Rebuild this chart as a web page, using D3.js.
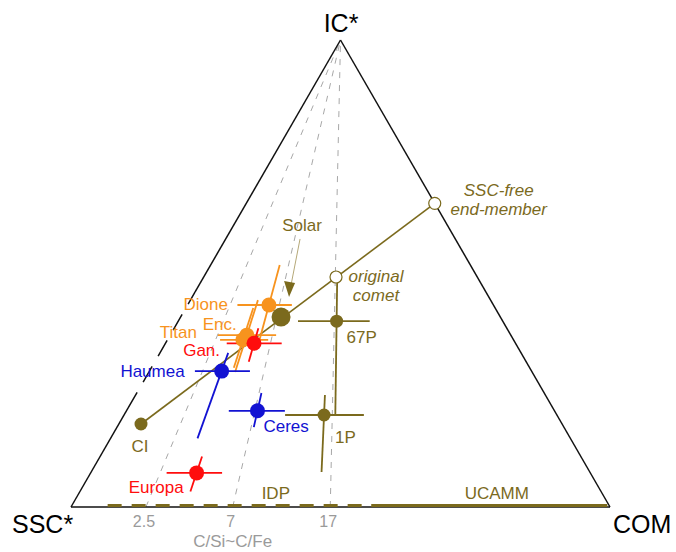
<!DOCTYPE html>
<html>
<head>
<meta charset="utf-8">
<script src="https://cdn.jsdelivr.net/npm/d3@7"></script>
<style>
  html, body { margin: 0; padding: 0; background: #fff; }
  svg { display: block; font-family: "Liberation Sans", Arial, sans-serif; }
</style>
</head>
<body>
<svg width="676" height="552"></svg>
<script>
// ternary coords: ic = IC* fraction, r = COM / (SSC* + COM)
const vertexLabels = ['SSC*', 'COM', 'IC*']
const tickR = [0.139, 0.300, 0.481]
const tickLabels = ['2.5', '7', '17']
const axisTitle = 'C/Si~C/Fe'

// bodies with error bars
const bodies = ['Titan', 'Enc.', 'Dione', 'Gan.', 'Haumea', 'Ceres', 'Europa', '67P', '1P']
const bodyGroup = ['sat', 'sat', 'sat', 'gal', 'dwarf', 'dwarf', 'gal', 'comet', 'comet']
const bodyIC = [0.358, 0.368, 0.4325, 0.3505, 0.291, 0.206, 0.073, 0.398, 0.197]
const bodyR = [0.218, 0.225, 0.266, 0.253, 0.189, 0.306, 0.212, 0.488, 0.462]
const bodyRErr = [[0.152, 0.291], [0.140, 0.311], [0.163, 0.341], [0.175, 0.332], [0.119, 0.263],
  [0.239, 0.370], [0.152, 0.263], [0.369, 0.590], [0.372, 0.554]]
const bodyICErr = [[0.298, 0.426], [0.289, 0.443], [0.347, 0.518], [0.311, 0.383], [0.147, 0.330],
  [0.171, 0.244], [0.033, 0.108], [0.199, 0.4925], [0.075, 0.240]]

// mixing line: CI -> Solar -> original comet -> SSC-free end-member
const mixNames = ['CI', 'Solar', 'original comet', 'SSC-free end-member']
const mixIC = [0.1777, 0.4069, 0.4925, 0.6503]
const mixR = [0.0499, 0.314, 0.4836, 1.0]

// ranges on the SSC*-COM base
const baseNames = ['IDP', 'UCAMM']
const baseRanges = [[0.068, 0.553], [0.557, 0.995]]
const baseLabelR = [0.38, 0.79]

const colors = { sat: '#f7931e', gal: '#ff0d0d', dwarf: '#1212d2', comet: '#7b6a1d' }
const olive = '#7b6a1d'

const svg = d3.select('svg')
const x = d3.scaleLinear().domain([0, 1]).range([71, 610])
const y = d3.scaleLinear().domain([0, 1]).range([507, 40])

// ternary -> pixel
const px = (ic, r) => x(r * (1 - ic) + ic / 2)
const py = (ic) => y(ic)
const pt = (ic, r) => [px(ic, r), py(ic)]

// grey guide lines from the IC* apex
svg.append('g')
  .selectAll('line')
  .data(tickR)
  .join('line')
  .attr('x1', (d) => px(0, d))
  .attr('y1', py(0))
  .attr('x2', px(1, 0))
  .attr('y2', py(1))
  .attr('stroke', '#a8a8a8')
  .attr('stroke-width', 1)
  .attr('stroke-dasharray', '6,7')

svg.append('g')
  .selectAll('text')
  .data(tickLabels)
  .join('text')
  .attr('x', (d, i) => px(0, tickR[i]) - 2)
  .attr('y', 527)
  .attr('text-anchor', 'middle')
  .attr('font-size', 16)
  .attr('fill', '#9a9a9a')
  .text((d) => d)

svg.append('text')
  .attr('x', px(0, tickR[1]))
  .attr('y', 547)
  .attr('text-anchor', 'middle')
  .attr('font-size', 17)
  .attr('fill', '#9a9a9a')
  .text(axisTitle)

// triangle
const edge = (a, b, dash) => svg.append('line')
  .attr('x1', a[0]).attr('y1', a[1])
  .attr('x2', b[0]).attr('y2', b[1])
  .attr('stroke', '#111')
  .attr('stroke-width', 1.5)
  .attr('stroke-dasharray', dash)

edge(pt(0, 0), pt(0, 1))
edge(pt(0, 1), pt(1, 0))
edge(pt(0, 0), pt(0.212, 0))
edge(pt(0.212, 0), pt(0.46, 0), '18,12')
edge(pt(0.46, 0), pt(1, 0))

// base ranges
baseRanges.forEach((rg, i) => {
  svg.append('line')
    .attr('x1', px(0, rg[0]))
    .attr('x2', px(0, rg[1]))
    .attr('y1', py(0) - 1.5)
    .attr('y2', py(0) - 1.5)
    .attr('stroke', olive)
    .attr('stroke-width', 3)
    .attr('stroke-dasharray', i === 0 ? '14,10' : null)
  svg.append('text')
    .attr('x', px(0, baseLabelR[i]))
    .attr('y', 499)
    .attr('text-anchor', 'middle')
    .attr('font-size', 17)
    .attr('fill', olive)
    .text(baseNames[i])
})

// vertex labels
svg.append('text').attr('x', 12).attr('y', 533).attr('font-size', 25).text(vertexLabels[0])
svg.append('text').attr('x', 613).attr('y', 533).attr('font-size', 25).text(vertexLabels[1])
svg.append('text').attr('x', 341).attr('y', 32).attr('text-anchor', 'middle').attr('font-size', 25).text(vertexLabels[2])

// mixing line
const line = d3.line().x((d) => px(d[0], d[1])).y((d) => py(d[0]))
svg.append('path')
  .attr('d', line([[mixIC[0], mixR[0]], [mixIC[3], mixR[3]]]))
  .attr('fill', 'none')
  .attr('stroke', olive)
  .attr('stroke-width', 1.6)

// error bars + points
const bars = svg.append('g')
bodies.forEach((name, i) => {
  const c = colors[bodyGroup[i]]
  const ic = bodyIC[i]
  const r = bodyR[i]
  bars.append('line')
    .attr('x1', px(ic, bodyRErr[i][0])).attr('x2', px(ic, bodyRErr[i][1]))
    .attr('y1', py(ic)).attr('y2', py(ic))
    .attr('stroke', c).attr('stroke-width', 1.8)
  bars.append('line')
    .attr('x1', px(bodyICErr[i][0], r)).attr('y1', py(bodyICErr[i][0]))
    .attr('x2', px(bodyICErr[i][1], r)).attr('y2', py(bodyICErr[i][1]))
    .attr('stroke', c).attr('stroke-width', 1.8)
})
bodies.forEach((name, i) => {
  svg.append('circle')
    .attr('cx', px(bodyIC[i], bodyR[i]))
    .attr('cy', py(bodyIC[i]))
    .attr('r', bodyGroup[i] === 'comet' ? 6.5 : 7.5)
    .attr('fill', colors[bodyGroup[i]])
})

// mixing points
svg.append('circle').attr('cx', px(mixIC[0], mixR[0])).attr('cy', py(mixIC[0])).attr('r', 6.5).attr('fill', olive)
svg.append('circle').attr('cx', px(mixIC[1], mixR[1])).attr('cy', py(mixIC[1])).attr('r', 9.5).attr('fill', olive)
;[2, 3].forEach((i) => {
  svg.append('circle')
    .attr('cx', px(mixIC[i], mixR[i])).attr('cy', py(mixIC[i]))
    .attr('r', 6).attr('fill', '#fff')
    .attr('stroke', olive).attr('stroke-width', 1.2)
})

// body labels (offsets from points)
const labelOff = {
  'Titan': [-46, -2, 'end'], 'Enc.': [-10, -5, 'end'], 'Dione': [-41, 5, 'end'],
  'Gan.': [-34, 13, 'end'], 'Haumea': [-37, 6, 'end'], 'Ceres': [6, 21, 'start'],
  'Europa': [-13, 20, 'end'], '67P': [10, 22, 'start'], '1P': [11, 28, 'start'],
}
bodies.forEach((name, i) => {
  const o = labelOff[name]
  svg.append('text')
    .attr('x', px(bodyIC[i], bodyR[i]) + o[0])
    .attr('y', py(bodyIC[i]) + o[1])
    .attr('text-anchor', o[2])
    .attr('font-size', 17)
    .attr('fill', colors[bodyGroup[i]])
    .text(name)
})

svg.append('text')
  .attr('x', px(mixIC[0], mixR[0]) - 1).attr('y', py(mixIC[0]) + 28)
  .attr('text-anchor', 'middle').attr('font-size', 17).attr('fill', olive)
  .text(mixNames[0])

// Solar label + arrow
const sx = px(mixIC[1], mixR[1])
const sy = py(mixIC[1])
svg.append('text')
  .attr('x', sx + 21).attr('y', sy - 86)
  .attr('text-anchor', 'middle').attr('font-size', 17).attr('fill', olive)
  .text(mixNames[1])
svg.append('line')
  .attr('x1', sx + 19).attr('y1', sy - 78)
  .attr('x2', sx + 10).attr('y2', sy - 32)
  .attr('stroke', '#b5a878').attr('stroke-width', 1)
svg.append('path')
  .attr('d', `M${sx + 3},${sy - 36} L${sx + 14},${sy - 34} L${sx + 8},${sy - 20} Z`)
  .attr('fill', olive)

// italic annotations
const italic = (lines, xx, yy, anchor) => lines.forEach((t, k) => {
  svg.append('text')
    .attr('x', xx).attr('y', yy + k * 19)
    .attr('text-anchor', anchor)
    .attr('font-size', 17).attr('font-style', 'italic').attr('fill', olive)
    .text(t)
})
italic(['original', 'comet'], px(mixIC[2], mixR[2]) + 40, py(mixIC[2]) + 5, 'middle')
italic(['SSC-free', 'end-member'], px(mixIC[3], mixR[3]) + 64, py(mixIC[3]) - 7, 'middle')
</script>
</body>
</html>
